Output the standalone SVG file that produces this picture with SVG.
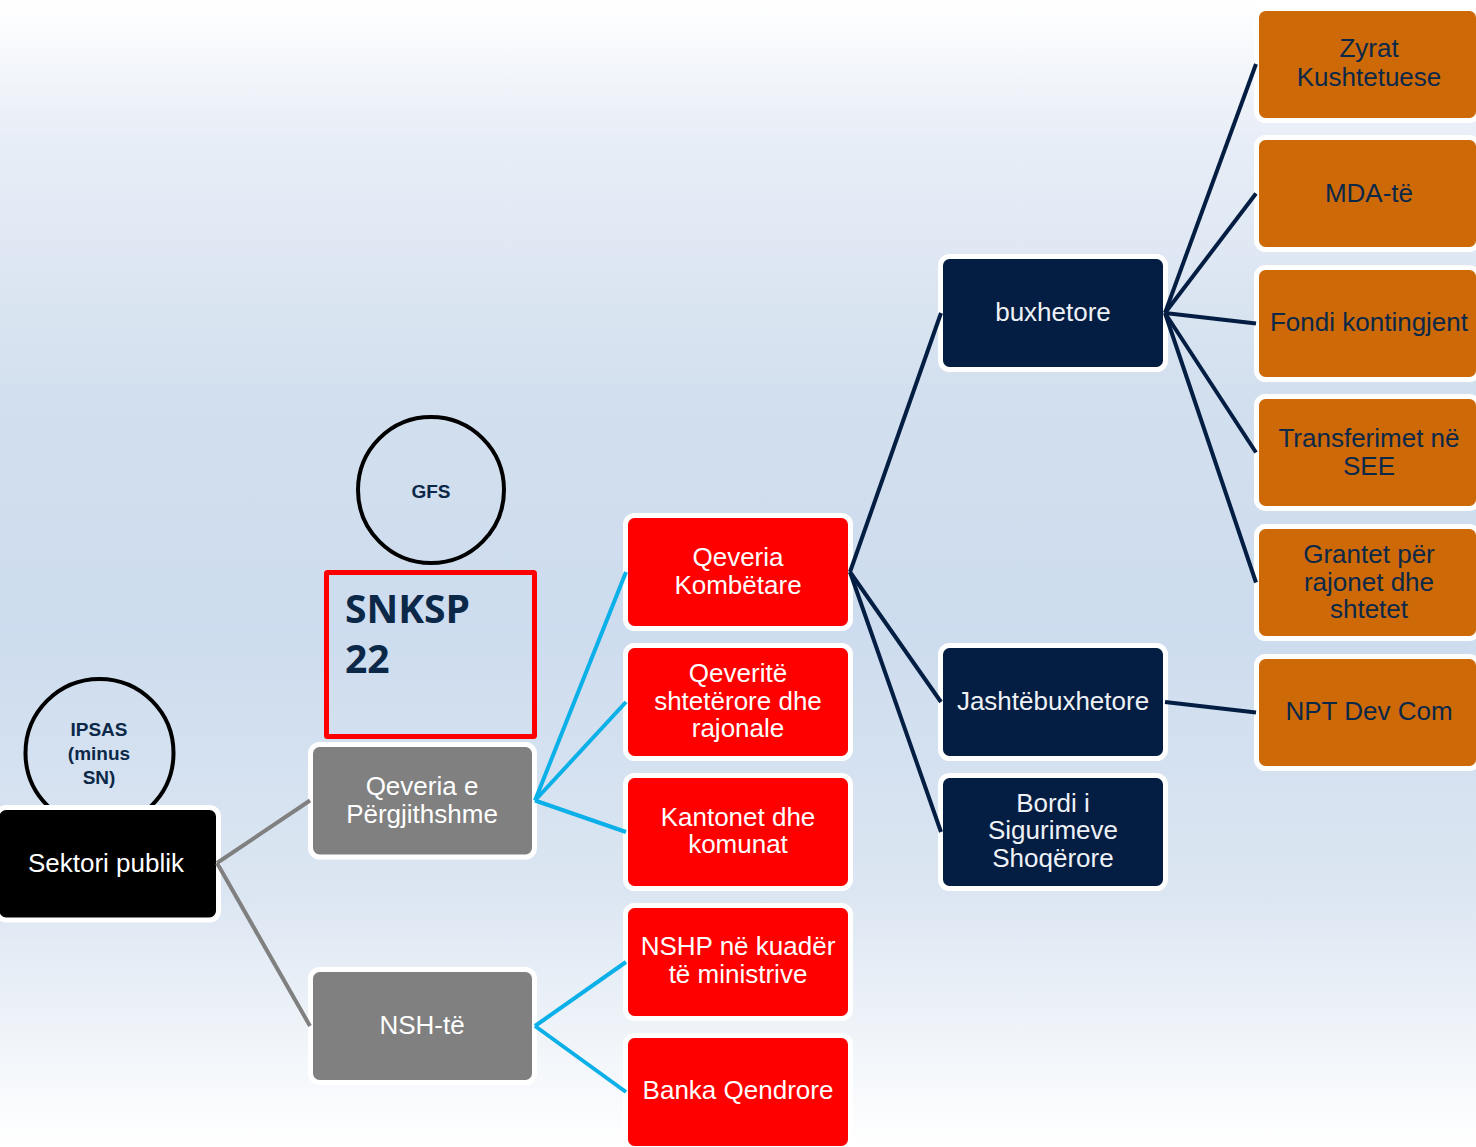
<svg xmlns="http://www.w3.org/2000/svg" width="1476" height="1147" viewBox="0 0 1476 1147">
<defs>
<linearGradient id="bg" x1="0" y1="0" x2="0" y2="1">
<stop offset="0" stop-color="#ffffff"/>
<stop offset="0.12" stop-color="#e8eef7"/>
<stop offset="0.35" stop-color="#d2dfee"/>
<stop offset="0.55" stop-color="#cddcee"/>
<stop offset="0.78" stop-color="#dce6f2"/>
<stop offset="1" stop-color="#ffffff"/>
</linearGradient>
<style>
.box{stroke:#ffffff;stroke-width:5}
.blk{fill:#000000}
.gry{fill:#808080}
.red{fill:#ff0000}
.nav{fill:#031e42}
.org{fill:#cd6a07}
.t{font-family:"Liberation Sans",Arial,sans-serif;font-size:26px;text-anchor:middle}
.tw{fill:#ffffff}
.tl{fill:#eef1f6}
.td{fill:#0b2848}
.circ{fill:none;stroke:#000000;stroke-width:4}
.ct{font-family:"Liberation Sans",Arial,sans-serif;font-size:19px;font-weight:bold;text-anchor:middle;fill:#0b2848}
.c1{stroke:#808080;stroke-width:4;fill:none}
.c2{stroke:#0bb0e8;stroke-width:4;fill:none}
.c3{stroke:#031e42;stroke-width:4;fill:none}
</style>
</defs>
<rect x="0" y="0" width="1476" height="1147" fill="url(#bg)"/>

<g id="ipsas">
<circle class="circ" cx="99.5" cy="753" r="74"/>
<text class="ct"><tspan x="99" y="736">IPSAS</tspan><tspan x="99" y="760">(minus</tspan><tspan x="99" y="784">SN)</tspan></text>
</g>
<g id="gfs">
<circle class="circ" cx="431" cy="490" r="73"/>
<text class="ct" x="431" y="498">GFS</text>
</g>
<g id="snksp">
<rect x="326.5" y="572.5" width="208" height="164" fill="none" stroke="#ff0000" stroke-width="5" rx="1"/>
<text font-family="'Open Sans','Noto Sans',sans-serif" font-weight="bold" font-size="39" fill="#0b2848"><tspan x="345" y="623">SNKSP</tspan><tspan x="345" y="673">22</tspan></text>
</g>

<g id="sektori">
<rect class="box blk" x="-3" y="807.5" width="221.5" height="112.5" rx="9"/>
<text class="t tw" x="106" y="872">Sektori publik</text>
</g>
<g id="qeveria-pergjithshme">
<rect class="box gry" x="310.5" y="744.5" width="224" height="112.5" rx="9"/>
<text class="t tw"><tspan x="422" y="795">Qeveria e</tspan><tspan x="422" y="823">Përgjithshme</tspan></text>
</g>
<g id="nsh">
<rect class="box gry" x="310.5" y="969.5" width="224" height="113" rx="9"/>
<text class="t tw" x="422" y="1034">NSH-të</text>
</g>

<g id="qeveria-kombetare">
<rect class="box red" x="625.5" y="515.5" width="225" height="113" rx="9"/>
<text class="t tw"><tspan x="738" y="566">Qeveria</tspan><tspan x="738" y="594">Kombëtare</tspan></text>
</g>
<g id="qeverite-shteterore">
<rect class="box red" x="625.5" y="645.5" width="225" height="113" rx="9"/>
<text class="t tw"><tspan x="738" y="682">Qeveritë</tspan><tspan x="738" y="710">shtetërore dhe</tspan><tspan x="738" y="737">rajonale</tspan></text>
</g>
<g id="kantonet">
<rect class="box red" x="625.5" y="775.5" width="225" height="113" rx="9"/>
<text class="t tw"><tspan x="738" y="826">Kantonet dhe</tspan><tspan x="738" y="853">komunat</tspan></text>
</g>
<g id="nshp">
<rect class="box red" x="625.5" y="905.5" width="225" height="113" rx="9"/>
<text class="t tw"><tspan x="738" y="955">NSHP në kuadër</tspan><tspan x="738" y="983">të ministrive</tspan></text>
</g>
<g id="banka">
<rect class="box red" x="625.5" y="1035.5" width="225" height="113" rx="9"/>
<text class="t tw" x="738" y="1099">Banka Qendrore</text>
</g>

<g id="buxhetore">
<rect class="box nav" x="940.5" y="256.5" width="225" height="113" rx="9"/>
<text class="t tl" x="1053" y="321">buxhetore</text>
</g>
<g id="jashtebuxhetore">
<rect class="box nav" x="940.5" y="645.5" width="225" height="113" rx="9"/>
<text class="t tl" x="1053" y="710">Jashtëbuxhetore</text>
</g>
<g id="bordi">
<rect class="box nav" x="940.5" y="775.5" width="225" height="113" rx="9"/>
<text class="t tl"><tspan x="1053" y="812">Bordi i</tspan><tspan x="1053" y="839">Sigurimeve</tspan><tspan x="1053" y="867">Shoqërore</tspan></text>
</g>

<g id="zyrat">
<rect class="box org" x="1256.5" y="8.5" width="222" height="112" rx="9"/>
<text class="t td"><tspan x="1369" y="57">Zyrat</tspan><tspan x="1369" y="86">Kushtetuese</tspan></text>
</g>
<g id="mda">
<rect class="box org" x="1256.5" y="137.5" width="222" height="112" rx="9"/>
<text class="t td" x="1369" y="202">MDA-të</text>
</g>
<g id="fondi">
<rect class="box org" x="1256.5" y="267.5" width="222" height="112" rx="9"/>
<text class="t td" x="1369" y="331">Fondi kontingjent</text>
</g>
<g id="transferimet">
<rect class="box org" x="1256.5" y="396.5" width="222" height="112" rx="9"/>
<text class="t td"><tspan x="1369" y="447">Transferimet në</tspan><tspan x="1369" y="475">SEE</tspan></text>
</g>
<g id="grantet">
<rect class="box org" x="1256.5" y="526.5" width="222" height="112" rx="9"/>
<text class="t td"><tspan x="1369" y="563">Grantet për</tspan><tspan x="1369" y="591">rajonet dhe</tspan><tspan x="1369" y="618">shtetet</tspan></text>
</g>
<g id="npt">
<rect class="box org" x="1256.5" y="656.5" width="222" height="112" rx="9"/>
<text class="t td" x="1369" y="720">NPT Dev Com</text>
</g>

<g id="connectors">
<line class="c1" x1="217" y1="863" x2="310" y2="800.5"/>
<line class="c1" x1="217" y1="863" x2="310" y2="1026"/>
<line class="c2" x1="535" y1="800.5" x2="626" y2="572"/>
<line class="c2" x1="535" y1="800.5" x2="626" y2="702"/>
<line class="c2" x1="535" y1="800.5" x2="626" y2="832"/>
<line class="c2" x1="535" y1="1026" x2="626" y2="962"/>
<line class="c2" x1="535" y1="1026" x2="626" y2="1092"/>
<line class="c3" x1="850" y1="572" x2="941" y2="313"/>
<line class="c3" x1="850" y1="572" x2="941" y2="702"/>
<line class="c3" x1="850" y1="572" x2="941" y2="832"/>
<line class="c3" x1="1165" y1="313" x2="1256" y2="64"/>
<line class="c3" x1="1165" y1="313" x2="1256" y2="193.5"/>
<line class="c3" x1="1165" y1="313" x2="1256" y2="323.5"/>
<line class="c3" x1="1165" y1="313" x2="1256" y2="452.5"/>
<line class="c3" x1="1165" y1="313" x2="1256" y2="582.5"/>
<line class="c3" x1="1165" y1="702" x2="1256" y2="712.5"/>
</g>
</svg>
